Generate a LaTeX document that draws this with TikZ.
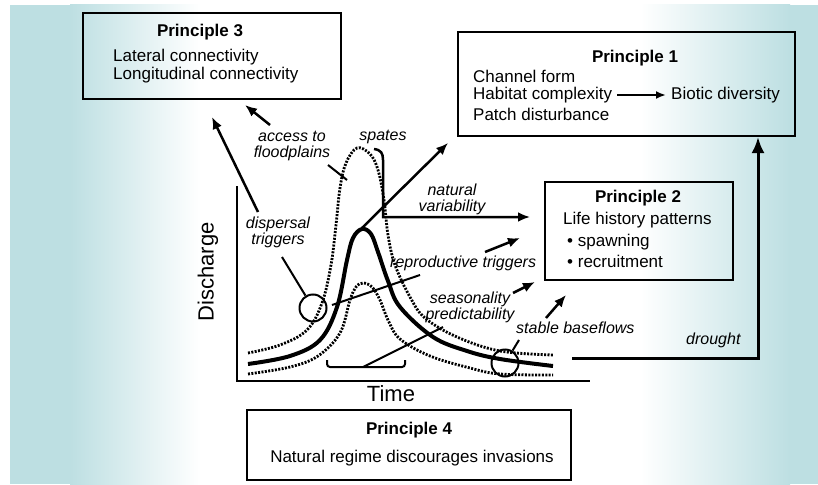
\documentclass[tikz,border=0pt]{standalone}
\usepackage{fontspec}
\setmainfont{Liberation Sans}
\usetikzlibrary{arrows.meta}
\definecolor{teal1}{RGB}{189,223,226}
\begin{document}
\begin{tikzpicture}[x=1pt,y=-1pt,
  box/.style={draw, line width=2pt, inner sep=0pt},
  lab/.style={font=\fontsize{16}{16}\selectfont\itshape, inner sep=0pt, align=center},
  txt/.style={font=\fontsize{17}{18}\selectfont, inner sep=0pt, anchor=west},
  ttl/.style={font=\fontsize{17}{18}\selectfont\bfseries, inner sep=0pt},
  big/.style={font=\fontsize{22}{22}\selectfont, inner sep=0pt},
  arr/.style={line width=2.5pt, -{Latex[length=12pt,width=10pt]}},
  ptr/.style={line width=2pt},
  dots/.style={line width=2.8pt, dash pattern=on 2pt off 1.4pt},
  hydro/.style={line width=4pt},
  ring/.style={circle, draw, line width=2pt, minimum size=27pt, inner sep=0pt}]
\useasboundingbox (0,0) rectangle (818,484);
% background
\fill[white] (0,0) rectangle (818,484);
\fill[teal1] (10,5) rectangle (70,484);
\shade[left color=teal1, right color=white] (70,5) rectangle (200,484);
\shade[left color=white, right color=teal1] (640,5) rectangle (790,484);
\fill[teal1] (790,5) rectangle (818,484);

% boxes
\node[box, minimum width=258pt, minimum height=86pt] (p3) at (212,56) {};
\node[box, minimum width=337pt, minimum height=104pt] (p1) at (626.5,84) {};
\node[box, minimum width=188pt, minimum height=98pt] (p2) at (639,231) {};
\node[box, minimum width=324pt, minimum height=70pt] (p4) at (409,445) {};

% box texts
\node[ttl] (p3t) at (200,32) {Principle 3};
\node[txt] (p3a) at (113,57) {Lateral connectivity};
\node[txt] (p3b) at (113,75) {Longitudinal connectivity};

\node[ttl] (p1t) at (635,58) {Principle 1};
\node[txt] (p1a) at (473,76) {Channel form};
\node[txt] (hab) at (473,95) {Habitat complexity};
\node[txt] (bio) at (671,95) {Biotic diversity};
\node[txt] (p1c) at (473,114) {Patch disturbance};
\draw[line width=2.5pt, -{Latex[length=10pt,width=8pt]}, shorten <=5pt, shorten >=5pt] (hab.east) -- (hab.east -| bio.west);

\node[ttl] (p2t) at (638,198) {Principle 2};
\node[txt] (p2a) at (563,220) {Life history patterns};
\node[txt] (p2b) at (567,242) {• spawning};
\node[txt] (p2c) at (567,261) {• recruitment};

\node[ttl] (p4t) at (409,430) {Principle 4};
\node[txt, anchor=center] (p4a) at (412,458) {Natural regime discourages invasions};

% axes
\coordinate (ax0) at (237,186);
\coordinate (ax1) at (237,381);
\coordinate (ax2) at (590,381);
\draw[line width=2pt] (ax0) -- (ax1) -- (ax2);
\node[big, rotate=90] (dis) at (208,272) {Discharge};
\node[big] (time) at (391,394) {Time};

% hydrographs
\draw[dots] plot[smooth, tension=0.6] coordinates {(248,353) (280,345) (307,330) (322,303) (331,265) (336,225) (340,188) (346,163) (357,148) (370,154) (378,170) (384,200) (388,235) (395,265) (410,297) (425,318) (457,337) (500,351) (553,355)};
\draw[dots] plot[smooth, tension=0.6] coordinates {(248,374) (290,367) (318,356) (340,333) (350,300) (356,287) (363,283) (372,287) (380,300) (388,320) (400,339) (430,356) (470,368) (500,374) (553,375)};
\draw[hydro] plot[smooth, tension=0.6] coordinates {(248,364) (290,356) (320,340) (337,307) (347,260) (353,238) (362,229) (371,234) (378,252) (388,281) (400,307) (433,337) (467,351) (500,359) (553,366)};

% circles
\node[ring] (c1) at (313,308) {};
\node[ring] (c2) at (505,363) {};

% labels
\node[lab] (acc) at (292,146) {access to\\floodplains};
\node[lab] (spa) at (383,137) {spates};
\node[lab] (dsp) at (278,232) {dispersal\\triggers};
\node[lab] (nat) at (452,199) {natural\\variability};
\node[lab, anchor=west] (rep) at (390,263) {reproductive triggers};
\node[lab] (sea) at (470,307) {seasonality\\predictability};
\node[lab, anchor=west] (stb) at (516,328) {stable baseflows};
\node[lab, anchor=west] (dro) at (686,340) {drought};

% pointer lines
\coordinate (dspA) at (282,257);
\draw[ptr] (dspA) -- (c1);
\coordinate (repA) at (420,275);
\coordinate (repB) at (332,305);
\draw[ptr] (repA) -- (repB);
\coordinate (accA) at (328,165);
\coordinate (accB) at (347,180);
\draw[ptr] (accA) -- (accB);
\coordinate (stbA) at (519,340);
\draw[ptr] (stbA) -- (c2);
\coordinate (brL) at (327,360);
\coordinate (brR) at (405,360);
\coordinate (brM) at (363,367);
\coordinate (seaA) at (443,327);
\draw[ptr, rounded corners=3pt] (brL) -- (327,367) -- (405,367) -- (brR);
\draw[ptr] (brM) -- (seaA);

% arrows
\coordinate (a1s) at (258,212); \coordinate (a1e) at (212,117);
\draw[arr] (a1s) -- (a1e);
\coordinate (a2s) at (270,125); \coordinate (a2e) at (245,105);
\draw[arr] (a2s) -- (a2e);
\coordinate (pk) at (362,228); \coordinate (a3e) at (448,143);
\draw[arr] (pk) -- (a3e);
\coordinate (spA) at (374,149); \coordinate (spB) at (383,217); \coordinate (spC) at (530,217);
\draw[arr] (spA) .. controls (381,150) and (383,153) .. (383,160) -- (spB) -- (spC);
\coordinate (a5s) at (485,252); \coordinate (a5e) at (520,238);
\draw[arr] (a5s) -- (a5e);
\coordinate (a6s) at (513,293); \coordinate (a6e) at (535,282);
\draw[arr] (a6s) -- (a6e);
\coordinate (a7s) at (546,318); \coordinate (a7e) at (566,295);
\draw[arr] (a7s) -- (a7e);
\coordinate (drS) at (572,358); \coordinate (drX) at (758,358);
\draw[line width=3pt, -{Latex[length=16pt,width=13pt]}] (drS) -- (drX) -- (drX |- p1.south);
\end{tikzpicture}
\end{document}
